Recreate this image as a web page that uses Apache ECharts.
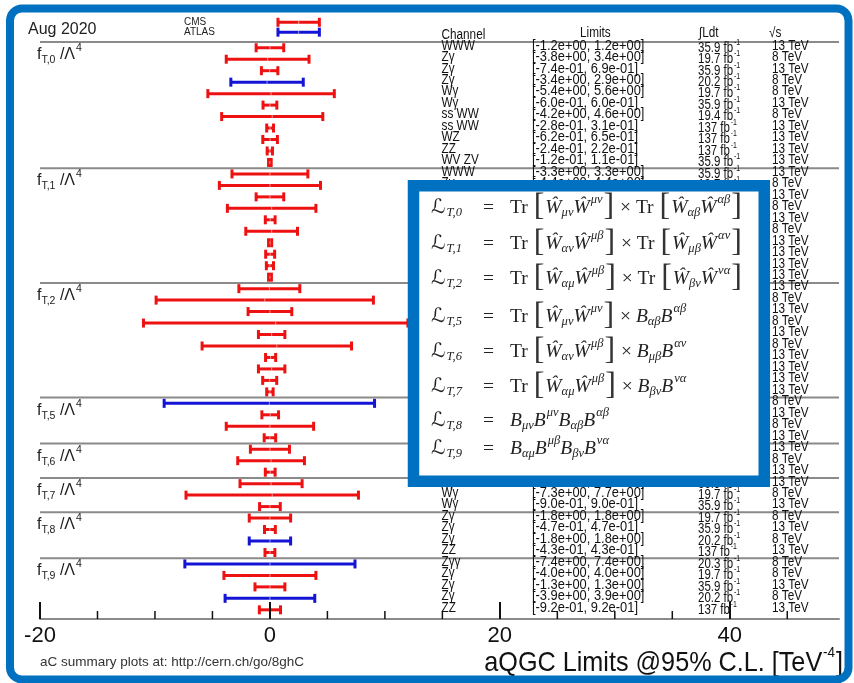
<!DOCTYPE html>
<html><head><meta charset="utf-8">
<script src="https://cdn.jsdelivr.net/npm/echarts@6/dist/echarts.min.js"></script>
<style>html,body{margin:0;padding:0;background:#fff}#c{width:854px;height:683px}</style>
</head><body><div id="c"></div>
<script>
// ---------------- data ----------------
const channels = [
 'WWW','Zγ','Zγ','Zγ','Wγ','Wγ','ss WW','ss WW','WZ','ZZ','WV ZV',
 'WWW','Zγ','Zγ','Wγ','Wγ','ss WW','ss WW','WZ','ZZ','WV ZV',
 'WWW','Zγ','Zγ','Wγ','Wγ','ss WW','ss WW','WZ','ZZ','WV ZV',
 'Zγ','Zγ','Wγ','Wγ',
 'Zγ','Wγ','Wγ',
 'Zγ','Wγ','Wγ',
 'Zγ','Zγ','Zγ','ZZ',
 'Zγγ','Zγ','Zγ','Zγ','ZZ'];
const lowerLimits = [
 -1.2,-3.8,-0.74,-3.4,-5.4,-0.6,-4.2,-0.28,-0.62,-0.24,-0.12,
 -3.3,-4.4,-1.2,-3.7,-0.4,-2.1,-0.12,-0.37,-0.31,-0.12,
 -2.7,-9.9,-1.9,-11,-1.0,-5.9,-0.38,-1.0,-0.63,-0.28,
 -9.2,-0.7,-3.8,-0.5,
 -1.7,-2.8,-0.4,
 -2.6,-7.3,-0.9,
 -1.8,-0.47,-1.8,-0.43,
 -7.4,-4.0,-1.3,-3.9,-0.92];
const upperLimits = [
 1.2,3.4,0.69,2.9,5.6,0.6,4.6,0.31,0.65,0.22,0.11,
 3.3,4.4,1.2,4.0,0.45,2.4,0.15,0.41,0.31,0.13,
 2.6,9.0,1.9,12,1.3,7.1,0.5,1.3,0.59,0.28,
 9.1,0.75,3.8,0.5,
 1.7,3.0,0.45,
 2.8,7.7,0.9,
 1.8,0.47,1.8,0.43,
 7.4,4.0,1.3,3.9,0.92];
const luminosities = [
 '35.9','19.7','35.9','20.2','19.7','35.9','19.4','137','137','137','35.9',
 '35.9','19.7','35.9','19.7','35.9','19.4','137','137','137','35.9',
 '35.9','19.7','35.9','19.7','35.9','19.4','137','137','137','35.9',
 '20.2','35.9','19.7','35.9',
 '35.9','19.7','35.9',
 '35.9','19.7','35.9',
 '19.7','35.9','20.2','137',
 '20.3','19.7','35.9','20.2','137'];
const energies = [
 '13','8','13','8','8','13','8','13','13','13','13',
 '13','8','13','8','13','8','13','13','13','13',
 '13','8','13','8','13','8','13','13','13','13',
 '8','13','8','13',
 '13','8','13',
 '13','8','13',
 '8','13','8','13',
 '8','8','13','8','13'];
const experiments = [
 'CMS','CMS','CMS','ATLAS','CMS','CMS','CMS','CMS','CMS','CMS','CMS',
 'CMS','CMS','CMS','CMS','CMS','CMS','CMS','CMS','CMS','CMS',
 'CMS','CMS','CMS','CMS','CMS','CMS','CMS','CMS','CMS','CMS',
 'ATLAS','CMS','CMS','CMS',
 'CMS','CMS','CMS',
 'CMS','CMS','CMS',
 'CMS','CMS','ATLAS','CMS',
 'ATLAS','CMS','CMS','ATLAS','CMS'];
const couplings = ['T,0','T,1','T,2','T,5','T,6','T,7','T,8','T,9'];
const groupSizes = [11,10,10,4,3,3,4,5];
const legendNames = ['CMS','ATLAS'];
const legendLower = [0.7, 0.7];
const legendUpper = [4.3, 4.3];
const xTickValues = [-20, 0, 20, 40];
const xMinorTickValues = [-15,-10,-5,5,10,15,25,30,35,45];
const equationLabels = ['T,0','T,1','T,2','T,5','T,6','T,7','T,8','T,9'];
const equationBodies = [
 [['m','Tr '],['br','['],['mi','Ŵ'],['sb','μν'],['mi','Ŵ'],['sp','μν'],['br',']'],['m',' × Tr '],['br','['],['mi','Ŵ'],['sb','αβ'],['mi','Ŵ'],['sp','αβ'],['br',']']],
 [['m','Tr '],['br','['],['mi','Ŵ'],['sb','αν'],['mi','Ŵ'],['sp','μβ'],['br',']'],['m',' × Tr '],['br','['],['mi','Ŵ'],['sb','μβ'],['mi','Ŵ'],['sp','αν'],['br',']']],
 [['m','Tr '],['br','['],['mi','Ŵ'],['sb','αμ'],['mi','Ŵ'],['sp','μβ'],['br',']'],['m',' × Tr '],['br','['],['mi','Ŵ'],['sb','βν'],['mi','Ŵ'],['sp','να'],['br',']']],
 [['m','Tr '],['br','['],['mi','Ŵ'],['sb','μν'],['mi','Ŵ'],['sp','μν'],['br',']'],['m',' × '],['mi','B'],['sb','αβ'],['mi','B'],['sp','αβ']],
 [['m','Tr '],['br','['],['mi','Ŵ'],['sb','αν'],['mi','Ŵ'],['sp','μβ'],['br',']'],['m',' × '],['mi','B'],['sb','μβ'],['mi','B'],['sp','αν']],
 [['m','Tr '],['br','['],['mi','Ŵ'],['sb','αμ'],['mi','Ŵ'],['sp','μβ'],['br',']'],['m',' × '],['mi','B'],['sb','βν'],['mi','B'],['sp','να']],
 [['mi','B'],['sb','μν'],['mi','B'],['sp','μν'],['mi','B'],['sb','αβ'],['mi','B'],['sp','αβ']],
 [['mi','B'],['sb','αμ'],['mi','B'],['sp','μβ'],['mi','B'],['sb','βν'],['mi','B'],['sp','να']]
];

// ---------------- style ----------------
const SANS = 'Liberation Sans, Arial, sans-serif';
const SERIF = 'Liberation Serif, DejaVu Serif, serif';
const RED = '#ee1111', BLUE = '#1414d6', FRAME = '#0070c0', GRAYLINE = '#8a8a8a';
const X_MIN = -20, X_MAX = 49.5, Y_MIN = -3, Y_MAX = 50.3;
const TFS = 14;

function fmtExp(v) {
  return v.toExponential(1).replace(/e([+-])(\d+)$/, (m, s, d) => 'e' + s + (d.length < 2 ? '0' + d : d));
}
const groupStarts = [];
{ let s = 0; groupSizes.forEach(n => { groupStarts.push(s); s += n; }); }

const barData = lowerLimits.map((lo, i) => [lo, upperLimits[i], i + 0.5, experiments[i] === 'ATLAS' ? 1 : 0]);
const legendData = legendNames.map((n, i) => [legendLower[i], legendUpper[i], i, n === 'ATLAS' ? 1 : 0]);
const legendRowPos = [-1.72, -0.86];

function errBar(a, b, color) {
  const h = 4.5;
  const st = {stroke: color, lineWidth: 3};
  const mx = (a[0] + b[0]) / 2;
  return {type: 'group', children: [
    {type: 'line', shape: {x1: a[0], y1: a[1], x2: b[0], y2: b[1]}, style: st},
    {type: 'line', shape: {x1: a[0], y1: a[1] - h, x2: a[0], y2: a[1] + h}, style: st},
    {type: 'line', shape: {x1: b[0], y1: b[1] - h, x2: b[0], y2: b[1] + h}, style: st},
    {type: 'line', shape: {x1: mx, y1: a[1] - 1.5, x2: mx, y2: a[1] + 1.5}, style: {stroke: 'rgba(255,255,255,0.55)', lineWidth: 1}}
  ]};
}

function txt(x, y, text, opt) {
  opt = opt || {};
  return {type: 'text', x: x, y: y, scaleX: opt.scaleX || 1,
    style: Object.assign({text: text, x: 0, y: 0, fill: opt.fill || '#111', fontSize: opt.fontSize || TFS,
      fontFamily: opt.fontFamily || SANS, align: opt.align || 'left', textAlign: opt.align || 'left',
      verticalAlign: 'middle', textVerticalAlign: 'middle'}, opt.extra || {})};
}

const tableRich = {
  a: {fontSize: TFS, lineHeight: 14, fontFamily: SANS, fill: '#111', color: '#111', verticalAlign: 'top', padding: [3, 0, 0, 0]},
  b: {fontSize: 8.5, lineHeight: 8, fontFamily: SANS, fill: '#111', color: '#111', verticalAlign: 'top', padding: [0, 0, 0, 1]}
};

const labelRich = {
  f: {fontSize: 16, lineHeight: 16, fontFamily: SANS, fill: '#222', color: '#222', verticalAlign: 'top', padding: [4, 0, 0, 0]},
  s: {fontSize: 10.5, lineHeight: 10, fontFamily: SANS, fill: '#222', color: '#222', verticalAlign: 'top', padding: [12, 0, 0, 0]},
  p: {fontSize: 10.5, lineHeight: 10, fontFamily: SANS, fill: '#222', color: '#222', verticalAlign: 'top', padding: [0, 0, 0, 1]}
};

const eqRich = {
  m: {fontSize: 19.5, lineHeight: 20, fontFamily: SERIF, fill: '#222', color: '#222', verticalAlign: 'top', padding: [7, 0, 0, 0]},
  mi: {fontSize: 19.5, lineHeight: 20, fontFamily: SERIF, fontStyle: 'italic', fill: '#222', color: '#222', verticalAlign: 'top', padding: [7, 0, 0, 0]},
  L: {fontSize: 20, lineHeight: 20, fontFamily: 'DejaVu Serif, DejaVu Sans, serif', fill: '#222', color: '#222', verticalAlign: 'top', padding: [7, 1, 0, 0]},
  sb: {fontSize: 12.5, lineHeight: 12, fontFamily: SERIF, fontStyle: 'italic', fill: '#222', color: '#222', verticalAlign: 'top', padding: [15, 0, 0, 0]},
  sp: {fontSize: 12.5, lineHeight: 12, fontFamily: SERIF, fontStyle: 'italic', fill: '#222', color: '#222', verticalAlign: 'top', padding: [2, 0, 0, 1]},
  br: {fontSize: 32, lineHeight: 34, fontFamily: SERIF, fill: '#333', color: '#333', verticalAlign: 'top', padding: [0, 1, 0, 1]},
  st: {fontSize: 4, lineHeight: 34, fill: '#fff', color: '#fff', verticalAlign: 'top'}
};
const eqY = [208, 244, 279, 317, 352, 387, 421, 449];

const graphics = [
  {type: 'rect', z: 100, shape: {x: 10, y: 8.5, width: 838.5, height: 671, r: 12}, style: {fill: 'none', stroke: FRAME, lineWidth: 8}},
  {type: 'text', z: 50, x: 28, y: 30, style: {text: 'Aug 2020', fontSize: 16, fontFamily: SANS, fill: '#222', align: 'left', verticalAlign: 'middle'}},
  {type: 'text', z: 50, x: 184, y: 22.5, style: {text: legendNames[0], fontSize: 10, fontFamily: SANS, fill: '#222', align: 'left', verticalAlign: 'middle'}},
  {type: 'text', z: 50, x: 184, y: 32, style: {text: legendNames[1], fontSize: 10, fontFamily: SANS, fill: '#222', align: 'left', verticalAlign: 'middle'}},
  {type: 'text', z: 50, x: 441.5, y: 35, scaleX: 0.84, style: {text: 'Channel', fontSize: TFS, fontFamily: SANS, fill: '#111', align: 'left', verticalAlign: 'middle'}},
  {type: 'text', z: 50, x: 580, y: 33, scaleX: 0.84, style: {text: 'Limits', fontSize: TFS, fontFamily: SANS, fill: '#111', align: 'left', verticalAlign: 'middle'}},
  {type: 'text', z: 50, x: 699, y: 33, scaleX: 0.84, style: {text: '∫Ldt', fontSize: TFS, fontFamily: SANS, fill: '#111', align: 'left', verticalAlign: 'middle'}},
  {type: 'text', z: 50, x: 769, y: 33, scaleX: 0.84, style: {text: '√s', fontSize: TFS, fontFamily: SANS, fill: '#111', align: 'left', verticalAlign: 'middle'}},
  {type: 'text', z: 50, x: 40, y: 662, style: {text: 'aC summary plots at: http://cern.ch/go/8ghC', fontSize: 13.5, fontFamily: SANS, fill: '#333', align: 'left', verticalAlign: 'middle'}},
  {type: 'text', z: 50, x: 843, y: 660, scaleX: 0.9, style: {text: '{a|aQGC Limits @95% C.L. [TeV}{b|-4}{a|]}', align: 'right', verticalAlign: 'middle',
    rich: {a: {fontSize: 28, lineHeight: 29, fontFamily: SANS, fill: '#111', color: '#111', verticalAlign: 'top', padding: [4, 0, 0, 0]},
           b: {fontSize: 15, lineHeight: 15, fontFamily: SANS, fill: '#111', color: '#111', verticalAlign: 'top', padding: [0, 1, 0, 1]}}}},
  // inset box
  {type: 'rect', z: 100, shape: {x: 413.5, y: 185.75, width: 350.75, height: 295.5}, style: {fill: '#fff', stroke: FRAME, lineWidth: 11.5}}
];
equationLabels.forEach((lab, i) => {
  graphics.push({type: 'text', z: 101, x: 430, y: eqY[i], style: {text: '{st| }{L|ℒ}{sb|' + lab + '}', rich: eqRich, align: 'left', verticalAlign: 'middle'}});
  graphics.push({type: 'text', z: 101, x: 488, y: eqY[i], style: {text: '{st| }{m|=}', rich: eqRich, align: 'center', verticalAlign: 'middle'}});
  const body = equationBodies[i].map(t => '{' + t[0] + '|' + t[1] + '}').join('');
  graphics.push({type: 'text', z: 101, x: 509, y: eqY[i], style: {text: '{st| }' + body, rich: eqRich, align: 'left', verticalAlign: 'middle'}});
});

const option = {
  backgroundColor: '#fff',
  animation: false,
  grid: {left: 40, right: 15, top: 7.6, bottom: 64, containLabel: false},
  xAxis: {type: 'value', min: X_MIN, max: X_MAX, position: 'bottom', z: 10,
    axisLine: {show: true, onZero: false, lineStyle: {color: GRAYLINE, width: 2}},
    axisTick: {show: true, inside: true, length: 17, customValues: xTickValues, lineStyle: {color: '#111', width: 2}},
    axisLabel: {show: true, customValues: xTickValues, fontSize: 22, color: '#111', margin: 6, fontFamily: SANS},
    splitLine: {show: false}},
  yAxis: {type: 'value', inverse: true, min: Y_MIN, max: Y_MAX, show: false},
  graphic: {elements: graphics},
  series: [
    { // group separators
      type: 'custom', z: 1, clip: false, silent: true,
      data: groupStarts.map(s => [X_MIN, s]),
      encode: {x: 0, y: 1},
      renderItem: (p, api) => {
        const a = api.coord([X_MIN, api.value(1)]), b = api.coord([X_MAX, api.value(1)]);
        return {type: 'line', shape: {x1: a[0], y1: a[1], x2: b[0], y2: b[1]}, style: {stroke: GRAYLINE, lineWidth: 2}};
      }
    },
    { // table text
      type: 'custom', z: 3, clip: false, silent: true,
      data: channels.map((c, i) => [0, i + 0.5, i]),
      encode: {x: 0, y: 1},
      renderItem: (p, api) => {
        const i = api.value(2);
        const y = api.coord([0, api.value(1)])[1] - 2;
        return {type: 'group', children: [
          txt(441.5, y, channels[i], {scaleX: 0.84}),
          txt(532, y, '[' + fmtExp(lowerLimits[i]) + ', ' + fmtExp(upperLimits[i]) + ']', {scaleX: 0.92}),
          txt(698, y - 1, '{a|' + luminosities[i] + ' fb}{b|-1}', {scaleX: 0.82, extra: {rich: tableRich}}),
          txt(772, y, energies[i] + ' TeV', {scaleX: 0.84})
        ]};
      }
    },
    { // coupling labels
      type: 'custom', z: 3, clip: false, silent: true,
      data: groupStarts.map((s, k) => [0, s + 0.5, k]),
      encode: {x: 0, y: 1},
      renderItem: (p, api) => {
        const k = api.value(2);
        const y = api.coord([0, api.value(1)])[1] + 3;
        return txt(37, y, '{f|f}{s|' + couplings[k] + '}{f| /Λ}{p|4}', {extra: {rich: labelRich}});
      }
    },
    { // limit bars
      type: 'custom', z: 5, clip: false, silent: true,
      data: barData,
      encode: {x: [0, 1], y: 2},
      renderItem: (p, api) => {
        const a = api.coord([api.value(0), api.value(2)]), b = api.coord([api.value(1), api.value(2)]);
        return errBar(a, b, api.value(3) === 1 ? BLUE : RED);
      }
    },
    { // legend bars
      type: 'custom', z: 5, clip: false, silent: true,
      data: legendData,
      encode: {x: [0, 1]},
      renderItem: (p, api) => {
        const r = legendRowPos[api.value(2)];
        const a = api.coord([api.value(0), r]), b = api.coord([api.value(1), r]);
        return errBar(a, b, api.value(3) === 1 ? BLUE : RED);
      }
    },
    { // minor ticks
      type: 'custom', z: 11, clip: false, silent: true,
      data: xMinorTickValues.map(v => [v, Y_MAX]),
      encode: {x: 0, y: 1},
      renderItem: (p, api) => {
        const a = api.coord([api.value(0), Y_MAX]);
        return {type: 'line', shape: {x1: a[0], y1: a[1], x2: a[0], y2: a[1] - 8}, style: {stroke: '#111', lineWidth: 1.5}};
      }
    }
  ]
};
const chart = echarts.init(document.getElementById('c'), null, {renderer: 'canvas'});
chart.setOption(option);
</script></body></html>
